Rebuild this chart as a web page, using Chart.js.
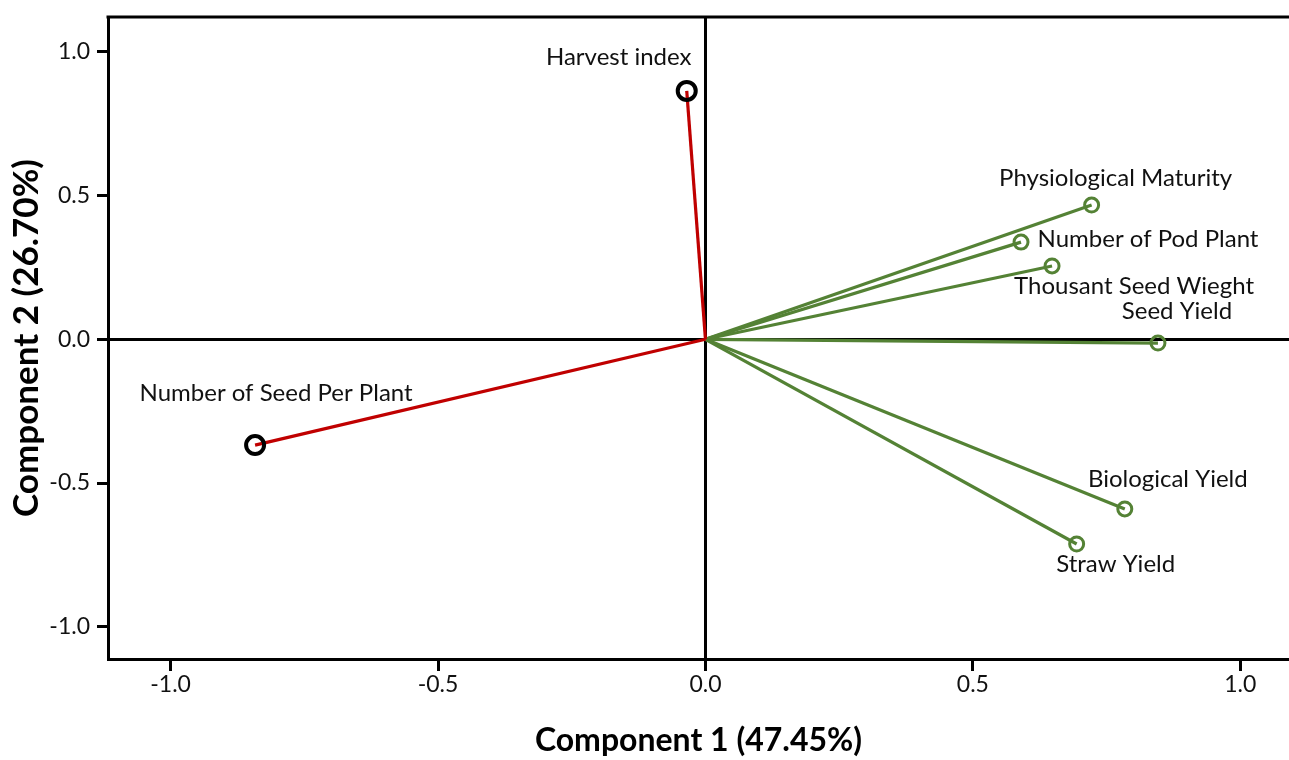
<!DOCTYPE html>
<html lang="en">
<head>
<meta charset="utf-8">
<title>Component Plot</title>
<script src="https://cdn.jsdelivr.net/npm/chart.js"></script>
<style>
  html, body { margin: 0; padding: 0; background: #fff; overflow: hidden; }
  #wrap { width: 1289px; height: 760px; }
</style>
</head>
<body>
<div id="wrap"><canvas id="pcaChart"></canvas></div>
<script>
// loadings
const variables = ['Harvest index', 'Number of Seed Per Plant', 'Physiological Maturity', 'Number of Pod Plant',
                   'Thousant Seed Wieght', 'Seed Yield', 'Biological Yield', 'Straw Yield'];
const comp1 = [-0.035, -0.842, 0.722, 0.590, 0.648, 0.846, 0.784, 0.694];
const comp2 = [0.864, -0.368, 0.467, 0.338, 0.255, -0.013, -0.590, -0.712];
const cluster = [1, 1, 2, 2, 2, 2, 2, 2];
const xTicks = [-1.0, -0.5, 0.0, 0.5, 1.0];
const yTicks = [-1.0, -0.5, 0.0, 0.5, 1.0];

// label placement (px from the point, text centre)
const labelOffsets = [[-68, -34], [21, -52], [24, -27], [127, -3], [82, 20], [19, -32], [43, -30], [39, 20]];

const RED = 'rgb(192, 0, 0)';
const GREEN = 'rgb(84, 130, 53)';

const datasets = variables.map(function (name, i) {
    const red = cluster[i] === 1;
    return {
        label: name,
        data: [{x: 0, y: 0}, {x: comp1[i], y: comp2[i]}],
        showLine: true,
        borderColor: red ? RED : GREEN,
        borderWidth: 3.2,
        pointRadius: [0, red ? 9 : 7],
        pointBorderWidth: red ? 4 : 3,
        pointBorderColor: red ? '#000' : GREEN,
        pointBackgroundColor: 'rgba(0,0,0,0)'
    };
});

const extras = {
    id: 'extras',
    afterDraw(chart) {
        const ctx = chart.ctx;
        const area = chart.chartArea;
        ctx.save();
        ctx.strokeStyle = '#000';
        ctx.lineWidth = 3;
        ctx.beginPath();
        ctx.moveTo(area.left - 1.5, area.top);
        ctx.lineTo(area.right, area.top);
        ctx.stroke();

        ctx.fillStyle = '#111';
        ctx.font = '24px Lato';
        ctx.textAlign = 'center';
        ctx.textBaseline = 'middle';
        chart.data.datasets.forEach(function (ds, i) {
            const pt = chart.getDatasetMeta(i).data[1];
            ctx.fillText(ds.label, pt.x + labelOffsets[i][0], pt.y + labelOffsets[i][1]);
        });
        ctx.restore();
    }
};

function zeroLine(ctx) {
    return ctx.tick && ctx.tick.value === 0 ? '#000' : 'rgba(0,0,0,0)';
}

new Chart(document.getElementById('pcaChart'), {
    type: 'scatter',
    data: { datasets: datasets },
    options: {
        responsive: true,
        maintainAspectRatio: false,
        animation: false,
        layout: { autoPadding: false, padding: { top: 17, right: 0, left: 0, bottom: 0 } },
        plugins: {
            legend: { display: false },
            tooltip: { enabled: false }
        },
        scales: {
            x: {
                min: -1.117,
                max: 1.091,
                afterBuildTicks: function (scale) { scale.ticks = xTicks.map(v => ({value: v})); },
                afterFit: function (scale) {
                    scale.height = 101;
                    scale.paddingLeft = 0;
                    scale.paddingRight = 0;
                },
                border: { display: true, color: '#000', width: 3 },
                grid: { color: zeroLine, tickColor: '#000', lineWidth: 3, tickLength: 12 },
                ticks: {
                    color: '#111',
                    padding: 0,
                    maxRotation: 0,
                    font: { family: 'Lato', size: 23 },
                    callback: v => v.toFixed(1)
                },
                title: {
                    display: true,
                    text: 'Component 1 (47.45%)',
                    color: '#000',
                    font: { family: 'Lato', size: 32, weight: 'bold' },
                    padding: { top: 0, bottom: 0 }
                }
            },
            y: {
                min: -1.112,
                max: 1.121,
                afterBuildTicks: function (scale) { scale.ticks = yTicks.map(v => ({value: v})); },
                afterFit: function (scale) {
                    scale.width = 108;
                    scale.paddingTop = 0;
                    scale.paddingBottom = 0;
                },
                border: { display: true, color: '#000', width: 3 },
                grid: { color: zeroLine, tickColor: '#000', lineWidth: 3, tickLength: 11 },
                ticks: {
                    color: '#111',
                    padding: 7,
                    font: { family: 'Lato', size: 23 },
                    callback: v => v.toFixed(1)
                },
                title: {
                    display: true,
                    text: 'Component 2 (26.70%)',
                    color: '#000',
                    font: { family: 'Lato', size: 35, weight: 'bold' },
                    padding: { top: 6, bottom: 0 }
                }
            }
        }
    },
    plugins: [extras]
});
</script>
</body>
</html>
